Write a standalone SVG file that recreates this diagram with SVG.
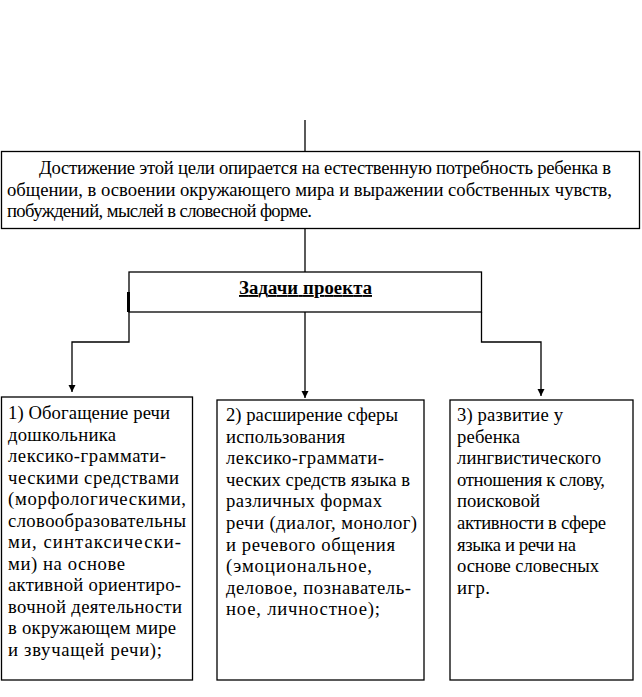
<svg xmlns="http://www.w3.org/2000/svg" width="642" height="697" viewBox="0 0 642 697">
<style>
.box{fill:#fff;stroke:#000;stroke-width:1.3}
.ln{fill:none;stroke:#000;stroke-width:1.3}
.t{font-family:"Liberation Serif","Times New Roman",serif;font-size:18.67px;fill:#000}
.title{font-weight:bold;text-decoration:underline}
</style>
<defs>
<marker id="arr" markerWidth="8" markerHeight="8" refX="7" refY="3.5" orient="auto" markerUnits="userSpaceOnUse">
<path d="M0,0 L7,3.5 L0,7 z" fill="#000"/>
</marker>
</defs>
<rect width="642" height="697" fill="#fff"/>
<g id="connectors">
<path class="ln" d="M305,120 V151.5"/>
<path class="ln" d="M305,228.5 V272"/>
<path class="ln" d="M129,312 V342 H72 V392" marker-end="url(#arr)"/>
<path class="ln" d="M305,312 V398" marker-end="url(#arr)"/>
<path class="ln" d="M481.5,312 V342 H541 V396" marker-end="url(#arr)"/>
</g>
<g id="goal" class="t">
<rect class="box" x="1.5" y="151.5" width="638" height="77"/>
<text x="39" y="174" textLength="572" lengthAdjust="spacing">Достижение этой цели опирается на естественную потребность ребенка в</text>
<text x="7" y="195.5" textLength="605" lengthAdjust="spacing">общении, в освоении окружающего мира и выражении собственных чувств,</text>
<text x="7" y="217" textLength="305" lengthAdjust="spacing">побуждений, мыслей в словесной форме.</text>
</g>
<g id="tasks" class="t">
<rect class="box" x="129" y="272" width="352.5" height="40"/>
<path d="M128.5,292 V312" stroke="#000" stroke-width="3"/>
<text class="title" x="239" y="294" textLength="133" lengthAdjust="spacing">Задачи проекта</text>
</g>
<g id="task1" class="t">
<rect class="box" x="1.5" y="397" width="191" height="283"/>
<text x="8" y="419" textLength="162" lengthAdjust="spacing">1) Обогащение речи</text>
<text x="8" y="440.5" textLength="108" lengthAdjust="spacing">дошкольника</text>
<text x="8" y="462" textLength="158" lengthAdjust="spacing">лексико-граммати-</text>
<text x="8" y="483.5" textLength="171" lengthAdjust="spacing">ческими средствами</text>
<text x="8" y="505" textLength="178" lengthAdjust="spacing">(морфологическими,</text>
<text x="8" y="526.5" textLength="178" lengthAdjust="spacing">словообразовательны</text>
<text x="8" y="548" textLength="173" lengthAdjust="spacing">ми, синтаксически-</text>
<text x="8" y="569.5" textLength="117" lengthAdjust="spacing">ми) на основе</text>
<text x="8" y="591" textLength="173" lengthAdjust="spacing">активной ориентиро-</text>
<text x="8" y="612.5" textLength="174" lengthAdjust="spacing">вочной деятельности</text>
<text x="8" y="634" textLength="168" lengthAdjust="spacing">в окружающем мире</text>
<text x="8" y="655.5" textLength="154" lengthAdjust="spacing">и звучащей речи);</text>
</g>
<g id="task2" class="t">
<rect class="box" x="217" y="400" width="207" height="280"/>
<text x="226" y="421" textLength="172" lengthAdjust="spacing">2) расширение сферы</text>
<text x="226" y="442.6" textLength="119" lengthAdjust="spacing">использования</text>
<text x="226" y="464.2" textLength="158" lengthAdjust="spacing">лексико-граммати-</text>
<text x="226" y="485.8" textLength="184" lengthAdjust="spacing">ческих средств языка в</text>
<text x="226" y="507.4" textLength="156" lengthAdjust="spacing">различных формах</text>
<text x="226" y="529" textLength="191" lengthAdjust="spacing">речи (диалог, монолог)</text>
<text x="226" y="550.6" textLength="169" lengthAdjust="spacing">и речевого общения</text>
<text x="226" y="572.2" textLength="146" lengthAdjust="spacing">(эмоциональное,</text>
<text x="226" y="593.8" textLength="185" lengthAdjust="spacing">деловое, познаватель-</text>
<text x="226" y="615.4" textLength="154" lengthAdjust="spacing">ное, личностное);</text>
</g>
<g id="task3" class="t">
<rect class="box" x="450" y="400" width="183" height="280"/>
<text x="457" y="421" textLength="106" lengthAdjust="spacing">3) развитие у</text>
<text x="457" y="442.6" textLength="63" lengthAdjust="spacing">ребенка</text>
<text x="457" y="464.2" textLength="144" lengthAdjust="spacing">лингвистического</text>
<text x="457" y="485.8" textLength="148" lengthAdjust="spacing">отношения к слову,</text>
<text x="457" y="507.4" textLength="83" lengthAdjust="spacing">поисковой</text>
<text x="457" y="529" textLength="149" lengthAdjust="spacing">активности в сфере</text>
<text x="457" y="550.6" textLength="119" lengthAdjust="spacing">языка и речи на</text>
<text x="457" y="572.2" textLength="142" lengthAdjust="spacing">основе словесных</text>
<text x="457" y="593.8" textLength="33" lengthAdjust="spacing">игр.</text>
</g>
</svg>
